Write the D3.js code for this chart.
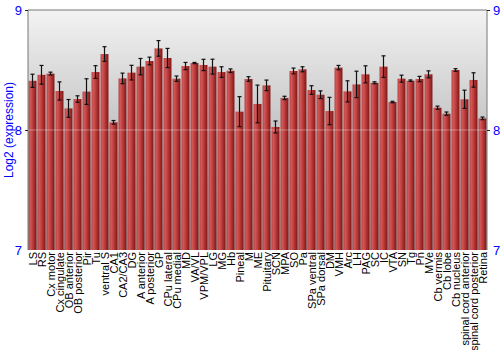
<!DOCTYPE html>
<html><head><meta charset="utf-8">
<script src="https://cdn.jsdelivr.net/npm/d3@7"></script>
<style>body{margin:0;background:#fff}svg{display:block;font-family:"Liberation Sans",Arial,sans-serif}</style>
</head><body><svg id="c" width="500" height="350"></svg>
<script>
const categories = ["LS","RS","Cx motor","Cx cingulate","OB anterior","OB posterior","Pir","Tu","ventral S","CA1","CA2/CA3","DG","A anterior","A posterior","GP","CPu lateral","CPu medial","MD","VA/VL","VPM/VPL","LG","MG","Hb","Pineal","M","ME","Pituitary","SCN","MPA","SO","Pa","SPa ventral","SPa dorsal","DM","VMH","Arc","LH","PAG","SC","IC","VTA","SN","Tg","Pn","MVe","Cb vermis","Cb lobe","Cb nucleus","spinal cord anterior","spinal cord posterior","Retina"];
const values = [8.41,8.46,8.47,8.325,8.18,8.258,8.32,8.483,8.633,8.064,8.43,8.478,8.528,8.575,8.68,8.60,8.428,8.533,8.558,8.542,8.528,8.483,8.494,8.153,8.425,8.217,8.372,8.025,8.267,8.492,8.506,8.333,8.294,8.158,8.52,8.322,8.38,8.464,8.394,8.528,8.233,8.428,8.411,8.425,8.464,8.186,8.136,8.5,8.256,8.417,8.097];
const errors = [0.055,0.078,0.012,0.076,0.074,0.027,0.107,0.053,0.061,0.015,0.044,0.061,0.068,0.032,0.065,0.08,0.022,0.03,0.005,0.047,0.062,0.044,0.015,0.125,0.019,0.157,0.044,0.05,0.014,0.024,0.021,0.036,0.032,0.114,0.018,0.088,0.11,0.071,0.008,0.09,0.006,0.029,0.006,0.022,0.029,0.013,0.014,0.011,0.076,0.06,0.011];
const yTicks = [7,8,9];
const yTitle = "Log2 (expression)";

const svg = d3.select("#c");
const m = {l:28, r:487, t:10, b:250};
const x = d3.scaleBand().domain(categories).range([m.l, m.r]).paddingInner(0.12).paddingOuter(0.06);
const y = d3.scaleLinear().domain([7,9]).range([m.b, m.t]);

const defs = svg.append("defs");
const bg = defs.append("linearGradient").attr("id","bg").attr("x1",0).attr("y1",0).attr("x2",0).attr("y2",1);
bg.append("stop").attr("offset","0%").attr("stop-color","#f3f3f3");
bg.append("stop").attr("offset","50%").attr("stop-color","#c4c4c4");
bg.append("stop").attr("offset","100%").attr("stop-color","#9a9a9a");
const bar = defs.append("linearGradient").attr("id","bar").attr("x1",0).attr("y1",0).attr("x2",1).attr("y2",0);
bar.append("stop").attr("offset","0%").attr("stop-color","#b23a3a");
bar.append("stop").attr("offset","20%").attr("stop-color","#d25a5a");
bar.append("stop").attr("offset","55%").attr("stop-color","#bb3a3a");
bar.append("stop").attr("offset","100%").attr("stop-color","#7e1616");

svg.append("rect").attr("x",m.l).attr("y",m.t).attr("width",m.r-m.l).attr("height",m.b-m.t).attr("fill","url(#bg)");

svg.append("g").selectAll("rect").data(categories).join("rect")
  .attr("x", d=>x(d)).attr("width", x.bandwidth())
  .attr("y", (d,i)=>y(values[i])).attr("height", (d,i)=>y(7)-y(values[i]))
  .attr("fill","url(#bar)");

// gridline at 8
svg.append("line").attr("x1",m.l).attr("x2",m.r).attr("y1",y(8)).attr("y2",y(8))
  .attr("stroke","#fff").attr("stroke-opacity",0.35).attr("stroke-width",1);

// error bars
const eg = svg.append("g").attr("stroke","#111").attr("stroke-width",1.2);
categories.forEach((c,i)=>{
  const cx = x(c)+x.bandwidth()/2;
  const y1 = y(values[i]+errors[i]), y2 = y(values[i]-errors[i]);
  eg.append("line").attr("x1",cx).attr("x2",cx).attr("y1",y1).attr("y2",y2);
  eg.append("line").attr("x1",cx-2).attr("x2",cx+2).attr("y1",y1).attr("y2",y1);
  eg.append("line").attr("x1",cx-2).attr("x2",cx+2).attr("y1",y2).attr("y2",y2);
});

// frame
svg.append("path").attr("d",`M${m.l},${m.b}V${m.t}H${m.r}V${m.b}`).attr("fill","none").attr("stroke","#777").attr("stroke-width",1);

// y axes
const la = svg.append("g").attr("transform",`translate(${m.l},0)`)
  .call(d3.axisLeft(y).tickValues(yTicks).tickFormat(d3.format("d")).tickSize(3).tickPadding(3));
const ra = svg.append("g").attr("transform",`translate(${m.r},0)`)
  .call(d3.axisRight(y).tickValues(yTicks).tickFormat(d3.format("d")).tickSize(3).tickPadding(3));
[la,ra].forEach(a=>{
  a.select(".domain").remove();
  a.selectAll(".tick line").attr("stroke","#222");
  a.selectAll(".tick text").attr("fill","#0000ff").attr("font-size",13).attr("font-family","Liberation Sans, Arial, sans-serif");
  a.selectAll(".tick").filter(d=>d===7).select("line").remove();
});

// category labels
svg.append("g").selectAll("text").data(categories).join("text")
  .attr("transform", d=>`translate(${x(d)+x.bandwidth()/2+4},${m.b+2}) rotate(-90)`)
  .attr("text-anchor","end").attr("font-size",11).attr("fill","#000").text(d=>d);

svg.append("text").attr("transform",`translate(13,${(m.t+m.b)/2}) rotate(-90)`)
  .attr("text-anchor","middle").attr("fill","#0000ff").attr("font-size",12).text(yTitle);
</script></body></html>
